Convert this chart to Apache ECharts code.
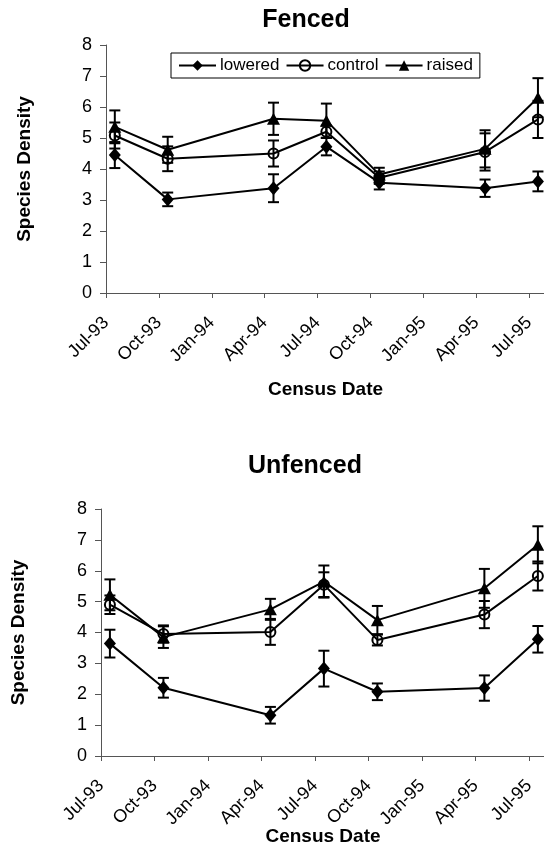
<!DOCTYPE html>
<html>
<head>
<meta charset="utf-8">
<script src="https://cdn.jsdelivr.net/npm/echarts@6/dist/echarts.min.js"></script>
<style>
html,body{margin:0;padding:0;background:#fff;}
#chart{width:544px;height:848px;}
</style>
</head>
<body>
<div id="chart"></div>
<script>
// Months since Jul-93 for each census
var censusMonths = [0.5, 3.5, 9.5, 12.5, 15.5, 21.5, 24.5];
var tickLabels = ['Jul-93','Oct-93','Jan-94','Apr-94','Jul-94','Oct-94','Jan-95','Apr-95','Jul-95'];
var seriesNames = ['lowered','control','raised'];

// Fenced
var fencedLowered = [4.45, 3.02, 3.38, 4.72, 3.56, 3.38, 3.60];
var fencedLoweredErr = [0.42, 0.22, 0.45, 0.28, 0.22, 0.28, 0.32];
var fencedControl = [5.08, 4.33, 4.50, 5.20, 3.72, 4.55, 5.60];
var fencedControlErr = [0.42, 0.40, 0.42, 0.20, 0.20, 0.60, 0.60];
var fencedRaised = [5.36, 4.62, 5.62, 5.56, 3.82, 4.65, 6.30];
var fencedRaisedErr = [0.53, 0.42, 0.52, 0.55, 0.22, 0.60, 0.63];

// Unfenced
var unfencedLowered = [3.64, 2.21, 1.32, 2.83, 2.08, 2.20, 3.78];
var unfencedLoweredErr = [0.45, 0.32, 0.27, 0.58, 0.27, 0.41, 0.43];
var unfencedControl = [4.90, 3.95, 4.02, 5.55, 3.76, 4.58, 5.83];
var unfencedControlErr = [0.30, 0.28, 0.42, 0.40, 0.18, 0.44, 0.47];
var unfencedRaised = [5.22, 3.85, 4.75, 5.65, 4.40, 5.43, 6.84];
var unfencedRaisedErr = [0.50, 0.35, 0.34, 0.52, 0.46, 0.63, 0.60];

var FONT = 'Liberation Sans, Arial, sans-serif';

var symbols = {
  lowered: {symbol: 'diamond', size: [12, 14], item: {color: '#000', borderWidth: 0}},
  control: {symbol: 'circle', size: 10, item: {color: 'rgba(0,0,0,0)', borderColor: '#000', borderWidth: 2}},
  raised: {symbol: 'triangle', size: [13, 12], item: {color: '#000', borderWidth: 0}}
};

function pairs(vals) {
  return vals.map(function (v, i) { return [censusMonths[i], v]; });
}
function errData(vals, errs) {
  return vals.map(function (v, i) { return [censusMonths[i], v - errs[i], v + errs[i]]; });
}
function renderErr(params, api) {
  var x = api.value(0), lo = api.value(1), hi = api.value(2);
  var p1 = api.coord([x, hi]), p2 = api.coord([x, lo]);
  var hw = 5.5;
  var st = {stroke: '#000', lineWidth: 2};
  return {type: 'group', children: [
    {type: 'line', shape: {x1: p1[0], y1: p1[1], x2: p2[0], y2: p2[1]}, style: st},
    {type: 'line', shape: {x1: p1[0] - hw, y1: p1[1], x2: p1[0] + hw, y2: p1[1]}, style: st},
    {type: 'line', shape: {x1: p2[0] - hw, y1: p2[1], x2: p2[0] + hw, y2: p2[1]}, style: st}
  ]};
}

function lineSeries(name, vals, idx) {
  var s = symbols[name];
  return {
    type: 'line', name: name, xAxisIndex: idx, yAxisIndex: idx,
    data: pairs(vals), symbol: s.symbol, symbolSize: s.size,
    itemStyle: s.item, lineStyle: {color: '#000', width: 2},
    z: 3, silent: true
  };
}
function errSeries(name, vals, errs, idx) {
  return {
    type: 'custom', name: name + ' SE', xAxisIndex: idx, yAxisIndex: idx,
    data: errData(vals, errs), renderItem: renderErr,
    encode: {x: 0, y: [1, 2]}, z: 2, silent: true
  };
}

function xAxisCfg(idx, nameGap) {
  return {
    type: 'value', gridIndex: idx, min: 0, max: 24.9, interval: 3,
    name: 'Census Date', nameLocation: 'middle', nameGap: nameGap, nameMoveOverlap: false,
    nameTextStyle: {fontFamily: FONT, fontSize: 19, fontWeight: 'bold', color: '#000'},
    axisLine: {show: true, lineStyle: {color: '#555', width: 1}},
    axisTick: {show: true, inside: false, length: 5, lineStyle: {color: '#555'}},
    splitLine: {show: false},
    axisLabel: {
      rotate: 45, margin: 27, fontFamily: FONT, fontSize: 18, color: '#000',
      formatter: function (v) {
        var k = v / 3;
        if (Math.abs(k - Math.round(k)) > 1e-6) return '';
        return tickLabels[Math.round(k)] || '';
      }
    }
  };
}
function yAxisCfg(idx, nameGap) {
  return {
    type: 'value', gridIndex: idx, min: 0, max: 8, interval: 1,
    name: 'Species Density', nameLocation: 'middle', nameGap: nameGap, nameMoveOverlap: false,
    nameTextStyle: {fontFamily: FONT, fontSize: 19, fontWeight: 'bold', color: '#000'},
    axisLine: {show: true, lineStyle: {color: '#555', width: 1}},
    axisTick: {show: true, inside: false, length: 6, lineStyle: {color: '#555'}},
    splitLine: {show: false},
    axisLabel: {margin: 14, fontFamily: FONT, fontSize: 18, color: '#000'}
  };
}

var option = {
  animation: false,
  backgroundColor: '#fff',
  title: [
    {text: 'Fenced', left: 301, top: 3, textAlign: 'center',
     textStyle: {fontFamily: FONT, fontSize: 25, fontWeight: 'bold', color: '#000'}},
    {text: 'Unfenced', left: 300, top: 449, textAlign: 'center',
     textStyle: {fontFamily: FONT, fontSize: 25, fontWeight: 'bold', color: '#000'}}
  ],
  legend: {
    data: seriesNames, left: 171, top: 53, orient: 'horizontal',
    borderColor: '#000', borderWidth: 1, padding: [4, 7], itemGap: 6,
    itemWidth: 37, itemHeight: 13,
    textStyle: {fontFamily: FONT, fontSize: 17, color: '#000', padding: [0, 0, 0, -1]},
    selectedMode: false
  },
  grid: [
    {left: 106, top: 45, height: 248, width: 439, outerBoundsMode: 'none', containLabel: false},
    {left: 101, top: 509, height: 247, width: 444, outerBoundsMode: 'none', containLabel: false}
  ],
  xAxis: [xAxisCfg(0, 87), xAxisCfg(1, 71)],
  yAxis: [yAxisCfg(0, 72), yAxisCfg(1, 73)],
  series: [
    lineSeries('lowered', fencedLowered, 0),
    lineSeries('control', fencedControl, 0),
    lineSeries('raised', fencedRaised, 0),
    errSeries('lowered', fencedLowered, fencedLoweredErr, 0),
    errSeries('control', fencedControl, fencedControlErr, 0),
    errSeries('raised', fencedRaised, fencedRaisedErr, 0),
    lineSeries('lowered', unfencedLowered, 1),
    lineSeries('control', unfencedControl, 1),
    lineSeries('raised', unfencedRaised, 1),
    errSeries('lowered', unfencedLowered, unfencedLoweredErr, 1),
    errSeries('control', unfencedControl, unfencedControlErr, 1),
    errSeries('raised', unfencedRaised, unfencedRaisedErr, 1)
  ]
};

var chart = echarts.init(document.getElementById('chart'), null, {renderer: 'canvas'});
chart.setOption(option);
</script>
</body>
</html>
